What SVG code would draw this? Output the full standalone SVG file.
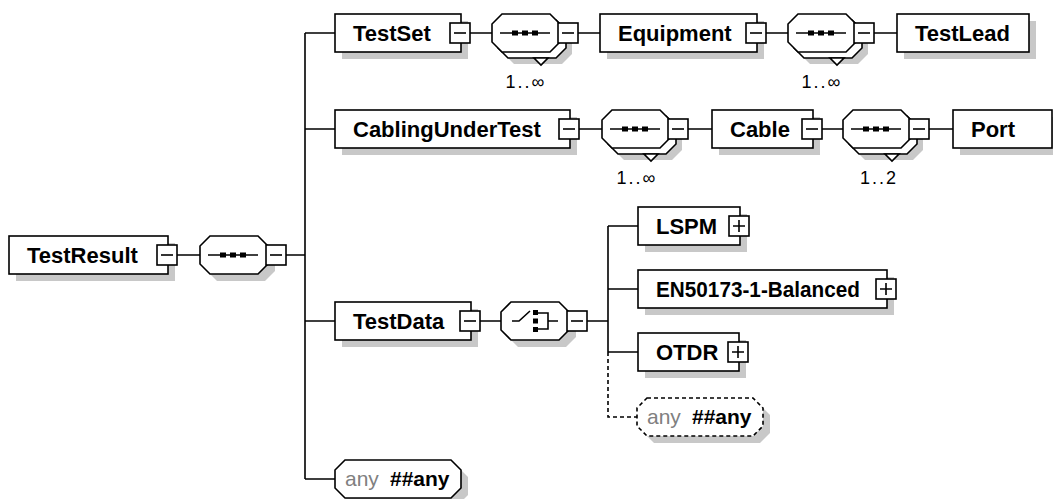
<svg xmlns="http://www.w3.org/2000/svg" xmlns:xlink="http://www.w3.org/1999/xlink" width="1053" height="499" viewBox="0 0 1053 499">
<style>
.bg{fill:#fff}
.box{fill:#fff;stroke:#000;stroke-width:1.6}
.sh{fill:#c8c8c8;stroke:none}
.ln{fill:none;stroke:#000;stroke-width:1.6}
.dash{fill:none;stroke:#000;stroke-width:1.6;stroke-dasharray:4 3}
.dbox{fill:#fff;stroke:#000;stroke-width:1.6;stroke-dasharray:4 3}
.name{font-family:"Liberation Sans",Arial,sans-serif;font-weight:bold;font-size:22px;fill:#000}
.mult{font-family:"Liberation Sans",Arial,sans-serif;font-size:18px;letter-spacing:2px;fill:#000;text-anchor:middle}
.anyg{font-family:"Liberation Sans",Arial,sans-serif;font-size:21px;fill:#808080}
.anyb{font-family:"Liberation Sans",Arial,sans-serif;font-size:21px;font-weight:bold;fill:#000}
</style>
<defs>
  <polygon id="oct" points="10,0 58,0 68,10 68,28 58,38 10,38 0,28 0,10"/>
  <polygon id="anyoct" points="10,0 116,0 126,10 126,28 116,38 10,38 0,28 0,10"/>
  <g id="sqm"><rect x="0" y="0" width="20" height="20" class="box"/><path d="M4,10H16" class="ln"/></g>
  <g id="sqp"><rect x="0" y="0" width="20" height="20" class="box"/><path d="M4,10H16M10,4V16" class="ln"/></g>
  <g id="seqicon">
    <path d="M-25,0H25" class="ln"/>
    <rect x="-13" y="-2.5" width="6" height="5" fill="#000"/>
    <rect x="-3" y="-2.5" width="6" height="5" fill="#000"/>
    <rect x="7" y="-2.5" width="6" height="5" fill="#000"/>
  </g>
  <g id="seqSingle">
    <use xlink:href="#oct" href="#oct" x="7" y="7" class="sh"/>
    <use xlink:href="#oct" href="#oct" class="box"/>
    <use xlink:href="#seqicon" href="#seqicon" x="33" y="19"/>
    <use xlink:href="#sqm" href="#sqm" x="66" y="9"/>
  </g>
  <g id="seqMulti">
    <use xlink:href="#oct" href="#oct" x="12" y="12" class="sh"/>
    <use xlink:href="#oct" href="#oct" x="6" y="6" class="box"/>
    <use xlink:href="#oct" href="#oct" class="box"/>
    <polygon points="42,44 56,44 49,51" class="box"/>
    <use xlink:href="#seqicon" href="#seqicon" x="33" y="19"/>
    <use xlink:href="#sqm" href="#sqm" x="66" y="9"/>
  </g>
  <g id="choice">
    <use xlink:href="#oct" href="#oct" x="7" y="7" class="sh"/>
    <use xlink:href="#oct" href="#oct" class="box"/>
    <path d="M11,19H18L29,9" class="ln"/>
    <rect x="32" y="8" width="5" height="5" fill="#000"/>
    <rect x="32" y="16.5" width="5" height="5" fill="#000"/>
    <rect x="32" y="25" width="5" height="5" fill="#000"/>
    <path d="M37,11H47V27H37M47,19H57" class="ln"/>
    <use xlink:href="#sqm" href="#sqm" x="66" y="9"/>
  </g>
</defs>
<rect x="0" y="0" width="1053" height="499" class="bg"/>

<g id="connectors">
  <path d="M177,255H200M286,255H305M305,33V479M305,33H335M305,129H335M305,321H335M305,479H335" class="ln"/>
  <path d="M470,33H492M578,33H600M766,33H788M874,33H897" class="ln"/>
  <path d="M579,129H602M688,129H712M822,129H843M929,129H953" class="ln"/>
  <path d="M480,321H501M587,321H608M608,226V352M608,226H638M608,289H638M608,352H638" class="ln"/>
  <path d="M608,352V417H637" class="dash"/>
</g>

<g id="TestResult">
  <rect x="16" y="243" width="159" height="38" class="sh"/>
  <rect x="9" y="236" width="159" height="38" class="box"/>
  <text x="27" y="263" class="name">TestResult</text>
  <use xlink:href="#sqm" href="#sqm" x="157" y="245"/>
</g>
<g id="TestResult-sequence">
  <use xlink:href="#seqSingle" href="#seqSingle" x="200" y="236"/>
</g>

<g id="TestSet">
  <rect x="342" y="21" width="126" height="38" class="sh"/>
  <rect x="335" y="14" width="126" height="38" class="box"/>
  <text x="353" y="41" class="name">TestSet</text>
  <use xlink:href="#sqm" href="#sqm" x="450" y="23"/>
</g>
<g id="TestSet-sequence">
  <use xlink:href="#seqMulti" href="#seqMulti" x="492" y="14"/>
  <text x="526" y="88" class="mult">1..∞</text>
</g>
<g id="Equipment">
  <rect x="607" y="21" width="157" height="38" class="sh"/>
  <rect x="600" y="14" width="157" height="38" class="box"/>
  <text x="618" y="41" class="name">Equipment</text>
  <use xlink:href="#sqm" href="#sqm" x="746" y="23"/>
</g>
<g id="Equipment-sequence">
  <use xlink:href="#seqMulti" href="#seqMulti" x="788" y="14"/>
  <text x="822" y="88" class="mult">1..∞</text>
</g>
<g id="TestLead">
  <rect x="904" y="21" width="132" height="38" class="sh"/>
  <rect x="897" y="14" width="132" height="38" class="box"/>
  <text x="915" y="41" class="name">TestLead</text>
</g>

<g id="CablingUnderTest">
  <rect x="342" y="117" width="235" height="38" class="sh"/>
  <rect x="335" y="110" width="235" height="38" class="box"/>
  <text x="353" y="137" class="name">CablingUnderTest</text>
  <use xlink:href="#sqm" href="#sqm" x="559" y="119"/>
</g>
<g id="CablingUnderTest-sequence">
  <use xlink:href="#seqMulti" href="#seqMulti" x="602" y="110"/>
  <text x="637" y="184" class="mult">1..∞</text>
</g>
<g id="Cable">
  <rect x="719" y="117" width="101" height="38" class="sh"/>
  <rect x="712" y="110" width="101" height="38" class="box"/>
  <text x="730" y="137" class="name">Cable</text>
  <use xlink:href="#sqm" href="#sqm" x="802" y="119"/>
</g>
<g id="Cable-sequence">
  <use xlink:href="#seqMulti" href="#seqMulti" x="843" y="110"/>
  <text x="879" y="184" class="mult">1..2</text>
</g>
<g id="Port">
  <rect x="960" y="117" width="99" height="38" class="sh"/>
  <rect x="953" y="110" width="99" height="38" class="box"/>
  <text x="971" y="137" class="name">Port</text>
</g>

<g id="TestData">
  <rect x="342" y="309" width="136" height="38" class="sh"/>
  <rect x="335" y="302" width="136" height="38" class="box"/>
  <text x="353" y="329" class="name">TestData</text>
  <use xlink:href="#sqm" href="#sqm" x="460" y="311"/>
</g>
<g id="TestData-choice">
  <use xlink:href="#choice" href="#choice" x="501" y="302"/>
</g>
<g id="LSPM">
  <rect x="645" y="214" width="102" height="38" class="sh"/>
  <rect x="638" y="207" width="102" height="38" class="box"/>
  <text x="656" y="234" class="name">LSPM</text>
  <use xlink:href="#sqp" href="#sqp" x="729" y="216"/>
</g>
<g id="EN50173-1-Balanced">
  <rect x="645" y="277" width="249" height="38" class="sh"/>
  <rect x="638" y="270" width="249" height="38" class="box"/>
  <text x="656" y="297" class="name" textLength="204" lengthAdjust="spacingAndGlyphs">EN50173-1-Balanced</text>
  <use xlink:href="#sqp" href="#sqp" x="876" y="279"/>
</g>
<g id="OTDR">
  <rect x="645" y="340" width="101" height="38" class="sh"/>
  <rect x="638" y="333" width="101" height="38" class="box"/>
  <text x="656" y="360" class="name">OTDR</text>
  <use xlink:href="#sqp" href="#sqp" x="728" y="342"/>
</g>
<g id="TestData-any">
  <use xlink:href="#anyoct" href="#anyoct" x="644" y="405" class="sh"/>
  <use xlink:href="#anyoct" href="#anyoct" x="637" y="398" class="dbox"/>
  <text x="647" y="424" class="anyg">any</text>
  <text x="692" y="424" class="anyb">##any</text>
</g>

<g id="TestResult-any">
  <use xlink:href="#anyoct" href="#anyoct" x="342" y="467" class="sh"/>
  <use xlink:href="#anyoct" href="#anyoct" x="335" y="460" class="box"/>
  <text x="345" y="486" class="anyg">any</text>
  <text x="390" y="486" class="anyb">##any</text>
</g>
</svg>
